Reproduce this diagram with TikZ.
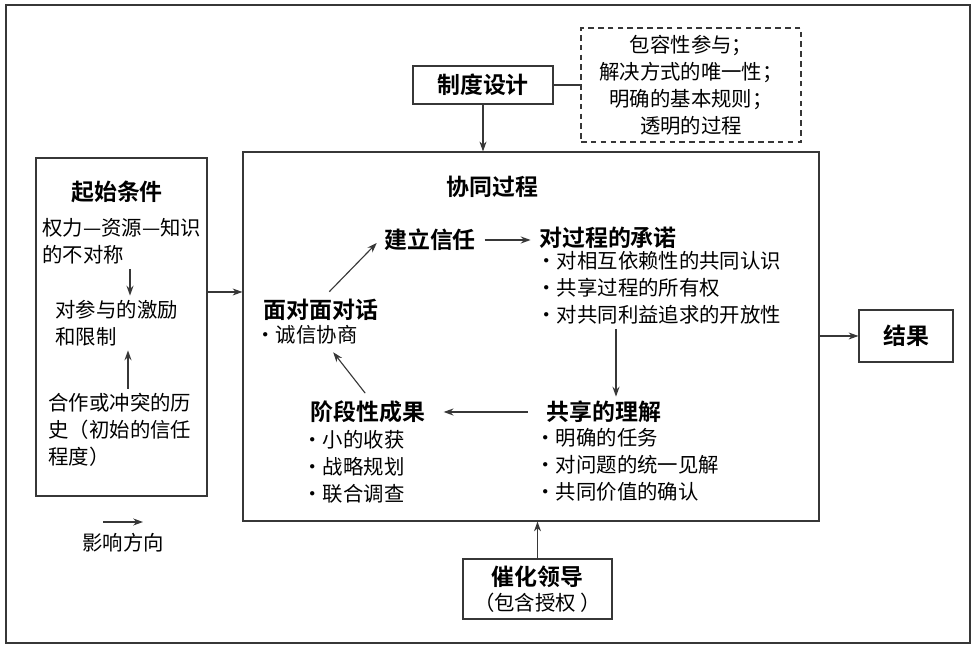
\documentclass[tikz,border=0pt]{standalone}
\usepackage{fontspec}
\setmainfont{Noto Sans CJK SC}[BoldFont={Noto Sans CJK SC Bold}]
\usetikzlibrary{arrows.meta,positioning,calc}
\definecolor{linegray}{RGB}{55,55,55}
\tikzset{
    % box and text styles
    framebox/.style={
        rectangle, draw=linegray, line width=0.8pt
    },
    dashbox/.style={
        framebox, dash pattern=on 4pt off 3pt
    },
    headtext/.style={
        font=\bfseries\fontsize{16.3}{20}\selectfont, inner sep=3pt
    },
    bodytext/.style={
        font=\fontsize{14.5}{19.2}\selectfont, align=left, inner sep=3pt
    },
    arrow/.style={
        -{Stealth[length=7pt,width=5pt]}, line width=0.8pt, color=linegray
    },
    flow/.style={
        arrow, shorten <=3pt, shorten >=3pt
    }
}
\begin{document}
\begin{tikzpicture}
\useasboundingbox (0,0) rectangle (24.3,16.2);

% Outer frame
\draw[linegray, line width=0.8pt] (0.15,0.125) rectangle (24.25,16.075);

% Main boxes
\node[framebox, minimum width=4.275cm, minimum height=8.45cm] (start) at (3.0375,8.025) {};
\node[framebox, minimum width=14.4cm, minimum height=9.225cm] (process) at (13.275,7.7875) {};
\node[framebox, headtext, minimum width=3.5cm, minimum height=0.95cm] (design) at (12.075,14.075) {制度设计};
\node[dashbox, bodytext, align=center, minimum width=5.5cm, minimum height=2.85cm] (rules) at (17.275,14.075) {包容性参与；\\解决方式的唯一性；\\明确的基本规则；\\透明的过程};
\node[framebox, headtext, minimum width=2.35cm, minimum height=1.3cm] (result) at (22.65,7.8) {结果};
\node[framebox, bodytext, align=center, minimum width=3.725cm, minimum height=1.5cm] (leader) at (13.4375,1.475) {{\bfseries\fontsize{16.3}{17.8}\selectfont 催化领导}\\[-1.4pt]（包含授权 ）};

% Starting conditions
\node[headtext] (startttl) at (2.925,11.4) {起始条件};
\node[bodytext, anchor=west] (asym) at (0.95,10.16) {权力—资源—知识\\的不对称};
\node[bodytext, anchor=west] (incent) at (1.275,8.125) {对参与的激励\\和限制};
\node[bodytext, anchor=west] (history) at (1.1,5.45) {合作或冲突的历\\史（初始的信任\\程度）};
\draw[arrow] (asym.south -| 3.25,0) -- (incent.north -| 3.25,0);
\draw[arrow] (history.north -| 3.2,0) -- (incent.south -| 3.2,0);

% Collaborative process
\node[headtext] (title) at (12.31,11.525) {协同过程};
\node[headtext] (trust) at (10.75,10.2) {建立信任};
\node[headtext, anchor=west] (commit) at (13.37,10.25) {对过程的承诺};
\node[bodytext, anchor=west] (commitlist) at (13.3,9.0) {·对相互依赖性的共同认识\\·共享过程的所有权\\·对共同利益追求的开放性};
\node[headtext, anchor=west] (shared) at (13.55,5.9) {共享的理解};
\node[bodytext, anchor=west] (sharedlist) at (13.275,4.575) {·明确的任务\\·对问题的统一见解\\·共同价值的确认};
\node[headtext, anchor=west] (stage) at (7.65,5.9) {阶段性成果};
\node[bodytext, anchor=west] (stagelist) at (7.45,4.525) {·小的收获\\·战略规划\\·联合调查};
\node[headtext, anchor=west] (face) at (6.475,8.45) {面对面对话};
\node[bodytext, anchor=west] (facelist) at (6.275,7.825) {·诚信协商};

% Cycle arrows
\draw[flow] (face.70) -- (trust.west);
\draw[flow] (trust.east) -- (trust.east -| commit.west);
\draw[arrow] (commitlist.south -| 15.4,0) -- (shared.north -| 15.4,0);
\draw[flow, shorten <=10pt, shorten >=10pt] (shared.west) -- (stage.east);
\draw[flow] (stage.north) -- (facelist.330);

% Links between boxes
\draw[arrow] (design.south) -- (design.south |- process.north);
\draw[linegray, line width=0.8pt] (design.east) -- (rules.west);
\draw[arrow] (start.east |- 0,8.9) -- (process.west |- 0,8.9);
\draw[arrow] (process.east |- result.west) -- (result.west);
\draw[arrow] (leader.north) -- (leader.north |- process.south);

% Legend
\coordinate (legstart) at (2.575,3.15);
\draw[arrow] (legstart) -- ++(1,0);
\node[bodytext] (legend) at (3.075,2.625) {影响方向};

\end{tikzpicture}
\end{document}
